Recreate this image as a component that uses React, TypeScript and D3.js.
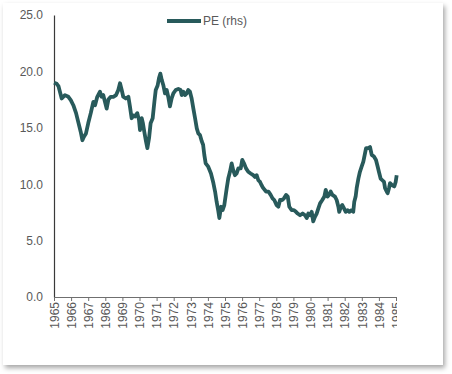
import React, { useEffect, useRef } from "react";
import * as d3 from "d3";

// decimal year of each observation
const years = [
  1965.0, 1965.16, 1965.26, 1965.32, 1965.45, 1965.64, 1965.84, 1965.98, 1966.13, 1966.29,
  1966.42, 1966.56, 1966.66, 1966.75, 1966.87, 1967.0, 1967.15, 1967.3, 1967.4, 1967.53,
  1967.69, 1967.78, 1967.88, 1967.98, 1968.08, 1968.18, 1968.32, 1968.47, 1968.63, 1968.76,
  1968.86, 1968.96, 1969.05, 1969.2, 1969.35, 1969.44, 1969.54, 1969.64, 1969.74, 1969.87,
  1969.97, 1970.03, 1970.13, 1970.2, 1970.28, 1970.38, 1970.46, 1970.56, 1970.65, 1970.77,
  1970.87, 1970.95, 1971.06, 1971.14, 1971.22, 1971.3, 1971.39, 1971.49, 1971.59, 1971.68,
  1971.78, 1971.88, 1971.98, 1972.12, 1972.27, 1972.4, 1972.47, 1972.56, 1972.66, 1972.76,
  1972.85, 1972.95, 1973.05, 1973.15, 1973.25, 1973.35, 1973.44, 1973.54, 1973.64, 1973.72,
  1973.79, 1973.87, 1974.02, 1974.18, 1974.32, 1974.42, 1974.51, 1974.61, 1974.67, 1974.77,
  1974.86, 1974.96, 1975.1, 1975.19, 1975.29, 1975.39, 1975.48, 1975.58, 1975.68, 1975.78,
  1975.92, 1976.01, 1976.11, 1976.23, 1976.36, 1976.5, 1976.65, 1976.75, 1976.85, 1976.95,
  1977.05, 1977.14, 1977.24, 1977.4, 1977.54, 1977.67, 1977.78, 1977.88, 1978.02, 1978.12,
  1978.22, 1978.34, 1978.45, 1978.57, 1978.67, 1978.76, 1978.9, 1979.03, 1979.15, 1979.25,
  1979.39, 1979.54, 1979.68, 1979.78, 1979.87, 1979.97, 1980.07, 1980.16, 1980.26, 1980.36,
  1980.46, 1980.56, 1980.69, 1980.81, 1980.89, 1980.99, 1981.08, 1981.18, 1981.28, 1981.43,
  1981.53, 1981.63, 1981.68, 1981.78, 1981.86, 1981.96, 1982.06, 1982.17, 1982.27, 1982.41,
  1982.5, 1982.56, 1982.64, 1982.7, 1982.8, 1982.89, 1982.99, 1983.09, 1983.19, 1983.25,
  1983.38, 1983.48, 1983.58, 1983.71, 1983.83, 1983.93, 1984.0, 1984.1, 1984.2, 1984.3,
  1984.36, 1984.46, 1984.51, 1984.59, 1984.65, 1984.78, 1984.9, 1984.98, 1985.04,
];

// price / earnings ratio
const pe = [
  19.0, 18.9, 18.7, 18.35, 17.6, 17.9, 17.75, 17.46, 17.0, 16.3,
  15.5, 14.65, 13.9, 14.2, 14.5, 15.4, 16.3, 17.3, 17.0, 17.75,
  18.2, 17.75, 17.9, 17.3, 16.7, 17.5, 17.75, 17.75, 17.9, 18.35,
  18.95, 18.35, 17.75, 17.6, 17.75, 16.9, 15.85, 16.1, 16.0, 16.3,
  15.7, 14.8, 15.85, 15.4, 14.65, 13.8, 13.2, 14.1, 15.4, 15.85,
  17.3, 18.35, 18.75, 19.4, 19.8, 19.25, 18.8, 18.05, 18.35, 17.75,
  16.9, 17.6, 18.05, 18.35, 18.45, 18.35, 17.9, 18.2, 17.9, 18.05,
  18.35, 18.2, 17.6, 16.7, 15.85, 14.95, 14.5, 14.35, 13.8, 13.5,
  12.6, 11.85, 11.55, 10.95, 10.1, 9.35, 8.45, 7.6, 7.0, 8.0,
  7.7, 8.15, 9.65, 10.5, 11.1, 11.85, 11.25, 10.8, 10.95, 11.4,
  11.4, 12.15, 11.85, 11.4, 11.1, 10.95, 10.8, 10.65, 10.8, 10.35,
  10.2, 9.9, 9.65, 9.35, 9.35, 9.05, 8.75, 8.6, 8.15, 8.0,
  8.6, 8.6, 8.75, 9.05, 8.9, 8.0, 7.7, 7.7, 7.55, 7.4,
  7.25, 7.4, 7.25, 7.0, 7.4, 7.25, 7.55, 6.7, 7.1, 7.4,
  7.85, 8.3, 8.6, 8.9, 9.5, 8.9, 9.05, 9.35, 9.05, 8.9,
  8.6, 8.0, 7.55, 8.0, 8.15, 7.85, 7.55, 7.7, 7.55, 7.7,
  7.55, 8.45, 8.9, 9.65, 10.5, 11.1, 11.55, 12.0, 12.75, 13.2,
  13.2, 13.3, 12.6, 12.45, 12.15, 11.55, 11.1, 10.5, 10.35, 10.2,
  9.65, 9.35, 9.2, 9.65, 10.1, 9.9, 9.8, 10.2, 10.8,
];

const yTicks = [0, 5, 10, 15, 20, 25];
const xTicks = d3.range(1965, 1986);
const seriesName = "PE (rhs)";

const App = () => {
  const svgRef = useRef<SVGSVGElement>(null);

  useEffect(() => {
    const width = 452;
    const height = 374;
    const font = "Liberation Sans, Arial, sans-serif";

    const svg = d3.select(svgRef.current);
    svg.selectAll("*").remove();
    svg.attr("width", width).attr("height", height);

    // card with a soft shadow
    const defs = svg.append("defs");
    const f = defs.append("filter").attr("id", "shadow").attr("x", "-5%").attr("y", "-5%").attr("width", "115%").attr("height", "115%");
    f.append("feDropShadow").attr("dx", 2).attr("dy", 3).attr("stdDeviation", 2.5).attr("flood-color", "#000").attr("flood-opacity", 0.35);
    // the last year label is cut off at the plot's right edge
    defs.append("clipPath").attr("id", "xclip").append("rect").attr("x", 0).attr("y", 0).attr("width", 397).attr("height", height);

    svg.append("rect").attr("width", width).attr("height", height).attr("fill", "#ffffff");
    svg
      .append("rect")
      .attr("x", 3)
      .attr("y", 3)
      .attr("width", 440)
      .attr("height", 362)
      .attr("fill", "#ffffff")
      .attr("filter", "url(#shadow)");

    const x = d3.scaleLinear().domain([1965, 1985]).range([54, 396]);
    const y = d3.scaleLinear().domain([0, 25]).range([297, 15]);

    // y axis
    const gy = svg.append("g").attr("transform", `translate(${x(1965)},0)`);
    gy.call(d3.axisLeft(y).tickValues(yTicks).tickSize(0).tickPadding(11).tickFormat(d3.format(".1f")));
    gy.select(".domain").attr("stroke", "#3a3a3a").attr("stroke-width", 1.2);
    gy.selectAll("text").attr("font-family", font).attr("font-size", 12).attr("fill", "#595959");

    // x axis
    const gx = svg
      .append("g")
      .attr("clip-path", "url(#xclip)")
      .append("g")
      .attr("transform", `translate(0,${y(0)})`);
    gx.call(d3.axisBottom(x).tickValues(xTicks).tickSize(4).tickSizeOuter(0).tickFormat(d3.format("d")));
    gx.select(".domain").attr("stroke", "#6f6f6f").attr("stroke-width", 1.2);
    gx.selectAll(".tick line").attr("stroke", "#6f6f6f");
    gx.selectAll("text")
      .attr("font-family", font)
      .attr("font-size", 12)
      .attr("fill", "#595959")
      .attr("text-anchor", "end")
      .attr("dy", "0.35em")
      .attr("y", 0)
      .attr("transform", "translate(0,5) rotate(-90)");

    // series
    const pts = years.map((t, i) => [t, pe[i]] as [number, number]);
    const line = d3
      .line<[number, number]>()
      .x((d) => x(d[0]))
      .y((d) => y(d[1]));
    svg
      .append("path")
      .datum(pts)
      .attr("d", line)
      .attr("fill", "none")
      .attr("stroke", "#285a5b")
      .attr("stroke-width", 3.8)
      .attr("stroke-linejoin", "round");

    // legend
    const lg = svg.append("g").attr("transform", "translate(167,21)");
    lg.append("line").attr("x1", 0).attr("x2", 34).attr("stroke", "#285a5b").attr("stroke-width", 3.8);
    lg.append("text")
      .attr("x", 36)
      .attr("dy", "0.35em")
      .attr("font-family", font)
      .attr("font-size", 12)
      .attr("fill", "#595959")
      .text(seriesName);
  }, []);

  return <svg ref={svgRef} style={{ position: "absolute", left: 0, top: 0 }}></svg>;
};

export default App;
